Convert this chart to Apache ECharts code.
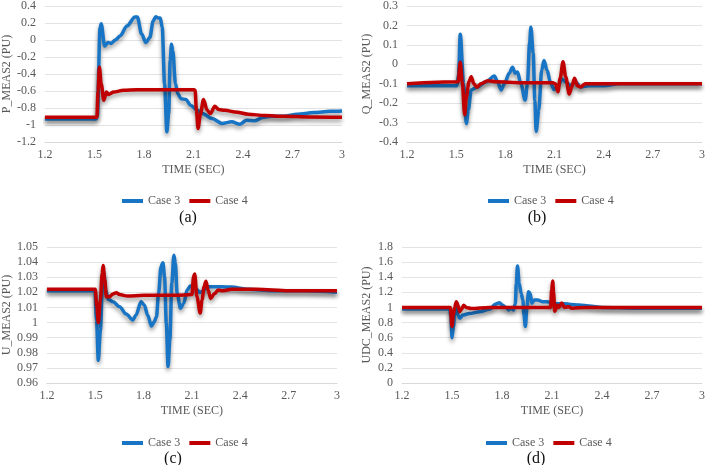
<!DOCTYPE html>
<html>
<head>
<meta charset="utf-8">
<script src="https://cdn.jsdelivr.net/npm/echarts@6/dist/echarts.min.js"></script>
<style>html,body{margin:0;padding:0;background:#fff;}#c{width:708px;height:465px;}</style>
</head>
<body>
<div id="c"></div>
<script>
// ---- Data (time in s, values in PU) ----
const xTicks = [1.2, 1.5, 1.8, 2.1, 2.4, 2.7, 3];
const seriesNames = ['Case 3', 'Case 4'];
const panelLabels = ['(a)', '(b)', '(c)', '(d)'];
const yNames = ['P_MEAS2 (PU)', 'Q_MEAS2 (PU)', 'U_MEAS2 (PU)', 'UDC_MEAS2 (PU)'];

// (a) P_MEAS2
const tA3 = [1.2, 1.51, 1.518, 1.534, 1.541, 1.562, 1.581, 1.601, 1.627, 1.657, 1.697, 1.746, 1.76, 1.786, 1.812, 1.836, 1.856, 1.872, 1.885, 1.899, 1.911, 1.925, 1.939, 1.95, 1.959, 1.967, 1.975, 1.991, 2.005, 2.024, 2.054, 2.084, 2.124, 2.154, 2.213, 2.273, 2.332, 2.382, 2.422, 2.471, 2.521, 2.571, 2.65, 2.73, 2.829, 2.928, 3.0];
const pA3 = [-0.93, -0.93, -0.9, 0.15, 0.19, -0.07, -0.03, -0.04, 0.0, 0.05, 0.166, 0.27, 0.27, 0.07, -0.03, 0.03, 0.225, 0.275, 0.26, 0.26, 0.147, -0.515, -1.08, -0.865, -0.24, -0.05, -0.126, -0.515, -0.63, -0.69, -0.70, -0.77, -0.827, -0.865, -0.924, -0.982, -0.963, -0.99, -0.944, -0.95, -0.912, -0.897, -0.897, -0.873, -0.854, -0.838, -0.834];
const tA4 = [1.2, 1.515, 1.522, 1.53, 1.541, 1.557, 1.573, 1.585, 1.617, 1.677, 1.756, 1.85, 2.0, 2.104, 2.11, 2.118, 2.128, 2.142, 2.161, 2.183, 2.203, 2.229, 2.253, 2.292, 2.352, 2.432, 2.531, 2.65, 2.8, 3.0];
const pA4 = [-0.91, -0.91, -0.6, -0.32, -0.515, -0.71, -0.613, -0.64, -0.613, -0.59, -0.585, -0.585, -0.585, -0.585, -0.59, -0.827, -1.04, -0.875, -0.70, -0.827, -0.865, -0.78, -0.818, -0.827, -0.846, -0.873, -0.889, -0.897, -0.905, -0.91];

// (b) Q_MEAS2
const tB3 = [1.2, 1.505, 1.515, 1.525, 1.545, 1.562, 1.574, 1.592, 1.622, 1.683, 1.733, 1.753, 1.774, 1.794, 1.824, 1.844, 1.86, 1.874, 1.895, 1.921, 1.935, 1.948, 1.956, 1.97, 1.98, 1.988, 2.004, 2.022, 2.036, 2.054, 2.077, 2.097, 2.117, 2.147, 2.168, 2.198, 2.228, 2.259, 2.31, 2.4, 2.5, 2.6, 2.7, 2.8, 3.0];
const qB3 = [-0.11, -0.11, -0.05, 0.155, -0.1, -0.305, -0.235, -0.132, -0.12, -0.09, -0.06, -0.09, -0.132, -0.1, -0.046, -0.015, -0.046, -0.04, -0.1, -0.184, -0.1, 0.108, 0.19, 0.057, -0.184, -0.345, -0.235, -0.03, 0.02, -0.03, -0.098, -0.13, -0.117, -0.077, -0.09, -0.11, -0.09, -0.117, -0.11, -0.11, -0.1, -0.1, -0.1, -0.1, -0.1];
const tB4 = [1.2, 1.512, 1.525, 1.537, 1.552, 1.562, 1.578, 1.592, 1.608, 1.626, 1.652, 1.693, 1.743, 1.9, 2.09, 2.105, 2.121, 2.135, 2.152, 2.168, 2.19, 2.205, 2.222, 2.24, 2.259, 2.289, 2.4, 2.6, 2.8, 3.0];
const qB4 = [-0.1, -0.09, 0.01, -0.09, -0.26, -0.17, -0.09, -0.064, -0.1, -0.118, -0.1, -0.085, -0.09, -0.095, -0.095, -0.1, -0.141, -0.07, 0.013, -0.064, -0.153, -0.117, -0.072, -0.11, -0.117, -0.1, -0.1, -0.1, -0.1, -0.1];

// (c) U_MEAS2
const tC3 = [1.2, 1.498, 1.508, 1.519, 1.532, 1.545, 1.553, 1.565, 1.58, 1.61, 1.651, 1.692, 1.733, 1.753, 1.784, 1.804, 1.825, 1.849, 1.866, 1.88, 1.893, 1.908, 1.92, 1.93, 1.941, 1.952, 1.963, 1.975, 1.988, 1.997, 2.008, 2.029, 2.049, 2.07, 2.09, 2.121, 2.151, 2.202, 2.284, 2.345, 2.45, 2.6, 2.8, 3.0];
const uC3 = [1.021, 1.021, 1.0017, 0.975, 0.995, 1.026, 1.0326, 1.0215, 1.0154, 1.0138, 1.0105, 1.0056, 1.0017, 1.005, 1.0138, 1.0116, 1.005, 0.9977, 1.0006, 1.0039, 1.0194, 1.037, 1.0396, 1.0303, 0.9995, 0.9709, 0.9885, 1.026, 1.0445, 1.0392, 1.0194, 1.0094, 1.0127, 1.0215, 1.0242, 1.0227, 1.02, 1.0237, 1.0237, 1.0235, 1.022, 1.021, 1.021, 1.02];
const tC4 = [1.2, 1.5, 1.51, 1.519, 1.532, 1.543, 1.549, 1.559, 1.569, 1.586, 1.61, 1.631, 1.651, 1.7, 1.8, 1.9, 2.0, 2.1, 2.11, 2.117, 2.131, 2.151, 2.163, 2.175, 2.187, 2.2, 2.216, 2.239, 2.263, 2.294, 2.345, 2.5, 2.7, 3.0];
const uC4 = [1.022, 1.022, 1.0105, 1.0, 1.015, 1.0326, 1.0378, 1.0282, 1.0171, 1.017, 1.0189, 1.0198, 1.0185, 1.0175, 1.018, 1.018, 1.018, 1.0185, 1.0303, 1.0322, 1.0171, 1.0063, 1.015, 1.0237, 1.0273, 1.0215, 1.016, 1.019, 1.0215, 1.021, 1.022, 1.022, 1.021, 1.021];

// (d) UDC_MEAS2
const tD3 = [1.2, 1.486, 1.494, 1.5, 1.508, 1.517, 1.526, 1.536, 1.546, 1.566, 1.605, 1.665, 1.724, 1.764, 1.784, 1.804, 1.824, 1.84, 1.854, 1.868, 1.88, 1.886, 1.893, 1.903, 1.915, 1.925, 1.932, 1.94, 1.95, 1.959, 1.969, 1.979, 1.993, 2.013, 2.042, 2.072, 2.092, 2.112, 2.142, 2.171, 2.211, 2.261, 2.321, 2.4, 2.6, 2.8, 3.0];
const dD3 = [0.98, 0.98, 0.87, 0.6, 0.74, 0.96, 1.0, 0.9, 0.856, 0.9, 0.92, 0.944, 0.975, 1.046, 1.063, 1.03, 0.998, 0.966, 0.99, 0.966, 1.05, 1.32, 1.55, 1.32, 1.187, 1.1, 0.9, 0.75, 1.01, 1.209, 1.187, 1.055, 1.1, 1.1, 1.077, 1.077, 1.063, 1.05, 1.05, 1.05, 1.04, 1.032, 1.02, 1.0, 0.99, 0.99, 0.99];
const tD4 = [1.2, 1.49, 1.5, 1.508, 1.516, 1.526, 1.536, 1.546, 1.558, 1.57, 1.586, 1.615, 1.725, 1.9, 2.092, 2.098, 2.104, 2.11, 2.116, 2.122, 2.13, 2.142, 2.158, 2.174, 2.2, 2.22, 2.3, 2.5, 2.75, 3.0];
const dD4 = [1.0, 1.0, 0.75, 0.9, 1.0, 1.077, 1.03, 0.944, 0.98, 1.03, 1.0, 0.985, 1.0, 1.0, 1.0, 1.23, 1.35, 1.19, 0.95, 0.97, 1.03, 1.0, 1.06, 1.0, 1.01, 0.99, 1.0, 1.0, 1.0, 1.0];

const yRanges = [[-1.2, 0.4, 0.2], [-0.4, 0.3, 0.1], [0.96, 1.05, 0.01], [0, 1.8, 0.2]];
const panels = [[tA3, pA3, tA4, pA4], [tB3, qB3, tB4, qB4], [tC3, uC3, tC4, uC4], [tD3, dD3, tD4, dD4]];

// ---- Layout / style ----
const FONT = "'Liberation Serif', 'Times New Roman', serif";
const TXT = '#595959';
const COLORS = ['#1874c4', '#c00000'];
const grids = [
  {left: 40, top: 5, width: 302, height: 137},
  {left: 407, top: 6, width: 297, height: 136},
  {left: 43, top: 247, width: 294, height: 136},
  {left: 402, top: 247, width: 302, height: 136}
];
const yNameGaps = [28, 34, 30, 29];
const legendPos = [[117, 190], [483, 190], [117, 432], [481, 432]];
const labelPos = [[188, 218], [537, 218], [173, 459], [536, 459]];

const fmt = v => String(+(+v).toFixed(2));
const zip = (t, v) => t.map((x, i) => [x, v[i]]);

const option = {
  animation: false,
  backgroundColor: '#fff',
  textStyle: {fontFamily: FONT},
  grid: grids,
  xAxis: grids.map((g, i) => ({
    gridIndex: i, type: 'value', min: xTicks[0], max: xTicks[xTicks.length - 1], interval: 0.3,
    axisLine: {show: true, onZero: false, lineStyle: {color: '#d9d9d9', width: 1}},
    axisTick: {show: false}, splitLine: {show: false},
    axisLabel: {color: TXT, fontSize: 12, fontFamily: FONT, margin: 7, formatter: fmt},
    name: 'TIME (SEC)', nameLocation: 'middle', nameGap: 22,
    nameTextStyle: {color: TXT, fontSize: 12, fontFamily: FONT}
  })),
  yAxis: grids.map((g, i) => ({
    gridIndex: i, type: 'value', min: yRanges[i][0], max: yRanges[i][1], interval: yRanges[i][2],
    axisLine: {show: false}, axisTick: {show: false},
    splitLine: {show: true, lineStyle: {color: '#e3e3e3', width: 1}},
    axisLabel: {color: TXT, fontSize: 12, fontFamily: FONT, margin: 9, formatter: fmt},
    name: yNames[i], nameLocation: 'middle', nameGap: yNameGaps[i],
    nameTextStyle: {color: TXT, fontSize: 12, fontFamily: FONT}
  })),
  legend: legendPos.map(p => ({
    data: seriesNames, left: p[0], top: p[1], icon: 'rect', itemWidth: 21, itemHeight: 4, itemGap: 9,
    textStyle: {color: TXT, fontSize: 12, fontFamily: FONT}, selectedMode: false
  })),
  series: [],
  graphic: labelPos.map((p, i) => ({
    type: 'text', x: p[0], y: p[1],
    style: {text: panelLabels[i], align: 'center', verticalAlign: 'middle', fontSize: 16, fontFamily: FONT, fill: '#111'}
  }))
};

panels.forEach((pd, i) => {
  [0, 1].forEach(k => {
    option.series.push({
      name: seriesNames[k], type: 'line', xAxisIndex: i, yAxisIndex: i,
      data: zip(pd[k * 2], pd[k * 2 + 1]),
      showSymbol: false, symbol: 'none', smooth: 0.3, smoothMonotone: 'x',
      color: COLORS[k],
      lineStyle: {color: COLORS[k], width: 3.5, shadowColor: 'rgba(0,0,0,0.4)', shadowBlur: 4, shadowOffsetY: 3},
      z: 2 + k
    });
  });
});

const chart = echarts.init(document.getElementById('c'), null, {renderer: 'canvas'});
chart.setOption(option);
</script>
</body>
</html>
